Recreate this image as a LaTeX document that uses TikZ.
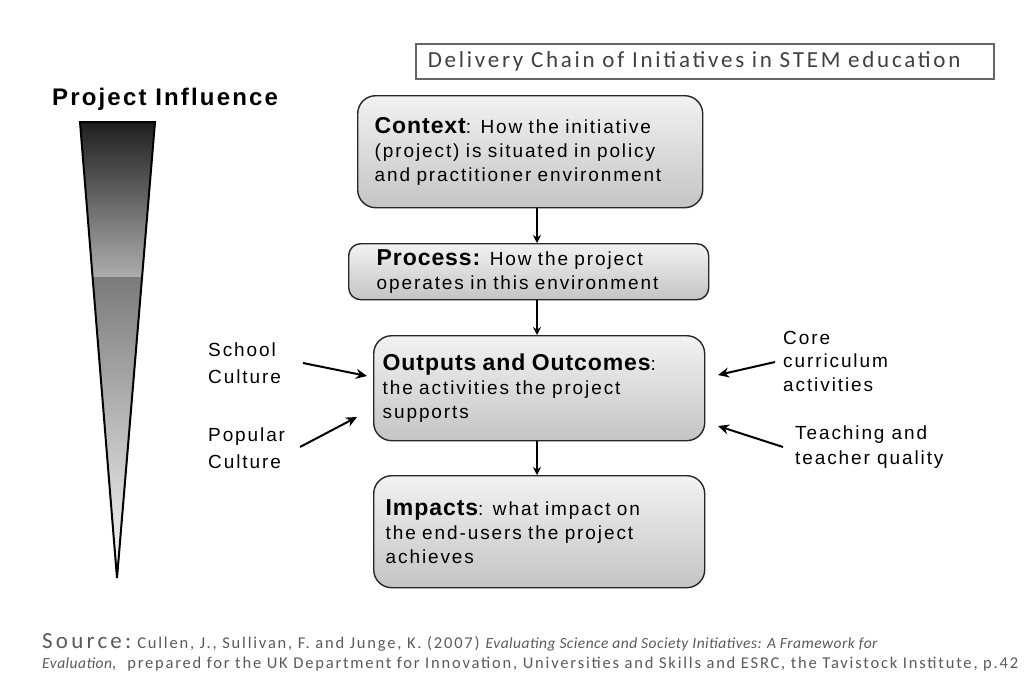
\documentclass[tikz,border=0pt]{standalone}
\usepackage{fontspec}
\setmainfont{Liberation Sans}
\newfontfamily\bodyf[LetterSpace=10]{Liberation Sans}
\newfontfamily\headf[LetterSpace=4]{Liberation Sans}
\newfontfamily\pif[LetterSpace=9]{Liberation Sans}
\newfontfamily\calf[LetterSpace=12]{Carlito}
\newfontfamily\srcf[LetterSpace=11]{Carlito}
\newfontfamily\srcit[LetterSpace=3]{Carlito}
\newfontfamily\srchead[LetterSpace=14]{Carlito}
\newcommand\myhead{\headf\bfseries\fontsize{23}{24}\selectfont}
\usetikzlibrary{arrows.meta}
\definecolor{boxtop}{RGB}{242,242,242}
\definecolor{boxbot}{RGB}{196,196,196}
\definecolor{srcgray}{RGB}{90,90,90}
\tikzset{
  chainbox/.style={draw=black!85, line width=1.4pt, rounded corners=18pt,
    top color=boxtop, bottom color=boxbot, anchor=north west, align=left,
    inner ysep=0pt, font=\bodyf\fontsize{19}{24}\selectfont},
  sidetext/.style={anchor=north west, align=left, inner sep=0pt,
    font=\bodyf\fontsize{19}{27}\selectfont},
  downarrow/.style={line width=1.3pt, -{Stealth[length=8pt,width=8pt]}},
  sidearrow/.style={line width=2pt, -{Stealth[length=11pt,width=10pt]}}
}
\begin{document}
\begin{tikzpicture}[x=1pt,y=-1pt]
\useasboundingbox (0,0) rectangle (1035,675);
\fill[white] (0,0) rectangle (1035,675);

% title box
\node[draw=black!60, line width=1.5pt, fill=white, anchor=north west,
  minimum width=578, minimum height=35, inner xsep=12pt, text width=554, align=left,
  font=\calf\fontsize{23}{22}\selectfont, text=black!75] (title) at (415,43)
  {Delivery Chain of Initiatives in STEM education};

% project influence
\node[anchor=base west, inner sep=0pt, font=\pif\bfseries\fontsize{24}{24}\selectfont] (pi) at (52,105) {Project Influence};

% triangle
\shade[top color=black!88, bottom color=black!32] (80,122) -- (155,122) -- (142.1,277) -- (92.6,277) -- cycle;
\shade[top color=black!52, bottom color=black!2] (92.6,277) -- (142.1,277) -- (117,578) -- cycle;
\draw[line width=2pt, line join=miter] (80,122) -- (155,122) -- (117,578) -- cycle;

% boxes
\node[chainbox, minimum width=345, minimum height=112, inner xsep=17pt, text width=311] (context) at (357,95)
  {{\myhead Context}: How the initiative\\(project) is situated in policy\\and practitioner environment};
\node[chainbox, minimum width=360, minimum height=56, rounded corners=12pt, inner xsep=28pt, text width=304] (process) at (348,243)
  {{\myhead Process:} How the project\\operates in this environment};
\node[chainbox, minimum width=331, minimum height=105, inner xsep=9pt, text width=313] (outputs) at (373,335)
  {{\myhead Outputs and Outcomes}:\\the activities the project\\supports};
\node[chainbox, minimum width=331, minimum height=112, inner xsep=12pt, text width=307] (impacts) at (373,475)
  {{\myhead Impacts}: what impact on\\the end-users the project\\achieves};

\draw[downarrow] (context.south -| 537,0) -- (process.north -| 537,0);
\draw[downarrow] (process.south -| 537,0) -- (outputs.north -| 537,0);
\draw[downarrow] (outputs.south -| 537,0) -- (impacts.north -| 537,0);

% side texts
\node[sidetext] (school) at (208,343) {School\\Culture};
\node[sidetext] (popular) at (208,428) {Popular\\Culture};
\node[sidetext, font=\bodyf\fontsize{19}{23.5}\selectfont] (core) at (783,331) {Core\\curriculum\\activities};
\node[sidetext, font=\bodyf\fontsize{19}{25}\selectfont] (teach) at (795,426) {Teaching and\\teacher quality};

\coordinate (schoolA) at (303,363);
\coordinate (schoolB) at (367,376);
\coordinate (popA) at (300,447);
\coordinate (popB) at (357,417);
\coordinate (coreA) at (775,362);
\coordinate (coreB) at (718,375);
\coordinate (teachA) at (783,447);
\coordinate (teachB) at (718,426);
\draw[sidearrow] (schoolA) -- (schoolB);
\draw[sidearrow] (popA) -- (popB);
\draw[sidearrow] (coreA) -- (coreB);
\draw[sidearrow] (teachA) -- (teachB);

% source
\node[anchor=base west, inner sep=0pt, text=srcgray, align=left] (source) at (42,648)
  {{\srchead\fontsize{23}{22}\selectfont Source:}\hspace{6pt}{\srcf\fontsize{16.5}{20}\selectfont Cullen, J., Sullivan, F. and Junge, K. (2007)}\hspace{6pt}{\srcit\itshape\fontsize{15.5}{20}\selectfont Evaluating Science and Society Initiatives: A Framework for}};
\node[anchor=base west, inner sep=0pt, text=srcgray, font=\srcf\fontsize{16.5}{20}\selectfont] (source2) at (42,668)
  {{\srcit\itshape\fontsize{15.5}{20}\selectfont Evaluation},\ \ prepared for the UK Department for Innovation, Universities and Skills and ESRC, the Tavistock Institute, p.42};
\end{tikzpicture}
\end{document}
